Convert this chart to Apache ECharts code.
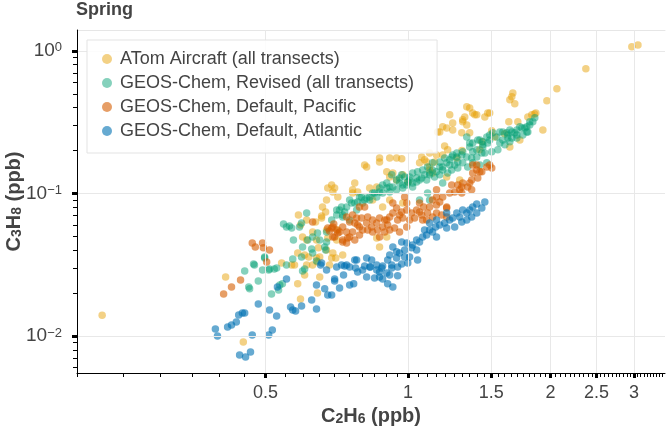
<!DOCTYPE html>
<html><head><meta charset="utf-8">
<script src="https://cdn.jsdelivr.net/npm/echarts@6/dist/echarts.min.js"></script>
<style>html,body{margin:0;padding:0;background:#fff}#c{width:666px;height:430px}</style>
</head><body><div id="c"></div>
<script>
// ---- data (C2H6 ppb, C3H8 ppb) ----
const seriesNames = ['ATom Aircraft (all transects)', 'GEOS-Chem, Revised (all transects)', 'GEOS-Chem, Default, Pacific', 'GEOS-Chem, Default, Atlantic'];

const atom = [
[0.226,0.0140],[0.449,0.00908],[0.412,0.0259],[2.97,1.07],[3.06,1.10],[2.375,0.748],[2.063,0.541],[1.965,0.446],[1.927,0.279],[1.665,0.507],[1.657,0.476],[1.641,0.453],[1.681,0.425],[1.862,0.367],[1.826,0.356],[1.791,0.344],[1.633,0.318],[1.706,0.318],[1.503,0.275],[1.474,0.367],[1.453,0.344],[1.370,0.367],[1.397,0.356],[1.350,0.398],[1.350,0.266],[1.432,0.230],[1.525,0.249],[1.318,0.344],[1.305,0.318],[1.331,0.302],[1.207,0.288],[1.243,0.279],[1.167,0.270],[1.299,0.266],[1.195,0.215],[1.213,0.202],[1.149,0.186],[1.111,0.192],[1.069,0.180],[1.084,0.172],[1.058,0.164],[0.871,0.177],[0.871,0.166],[0.915,0.177],[0.946,0.177],[0.970,0.175],[0.818,0.153],[0.915,0.1305],[0.929,0.1393],[0.859,0.111],[0.830,0.1093],[1.111,0.146],
[1.225,0.356],[1.331,0.405],[1.384,0.356],[1.488,0.367],[1.305,0.328],[1.155,0.270],[1.723,0.237],[1.641,0.212],[1.418,0.202],[1.184,0.186],[1.268,0.177],[1.138,0.166],[1.095,0.166],[1.127,0.1393],[1.207,0.1305],[1.286,0.124],[0.902,0.1416],[0.975,0.1349],[0.946,0.124],[0.764,0.106],[0.772,0.1185],[0.677,0.1093],[0.694,0.1024],[0.711,0.0945],[0.673,0.0900],[0.660,0.0804],[0.611,0.0652],[0.629,0.0537],[0.599,0.0495],[0.605,0.0370],[0.651,0.0358],[0.694,0.0382],[0.842,0.0900],[0.915,0.0900],[0.884,0.0804],[0.975,0.0858],[0.859,0.0487],[0.902,0.0495],[0.871,0.0421],
[0.670,0.0742],[0.657,0.0673],[0.638,0.0631],[0.587,0.0706],[0.593,0.0601],[0.673,0.0554],[0.711,0.0554],[0.677,0.0487],[0.707,0.0472],[0.641,0.0472],[0.611,0.0472],[0.585,0.0382],[0.617,0.0358],[0.644,0.0330],[0.690,0.0353],[0.673,0.0401],[0.629,0.0315],[0.651,0.0259],[0.605,0.0268],[0.576,0.0315],[0.541,0.0325],[0.683,0.0315],[0.657,0.0695],[0.647,0.0415],[0.585,0.0232],[0.593,0.01818],[0.644,0.0200],[0.568,0.0315],[0.611,0.0315],[0.641,0.0353],[0.704,0.0353],[0.728,0.0370],
[0.690,0.1147],[0.700,0.1093],[0.764,0.1008],[0.783,0.1024],[0.810,0.158],[1.111,0.153],[1.184,0.293],[1.243,0.312],[1.000,0.120],[1.300,0.200],[1.600,0.262],[1.850,0.360]
];

const revised = [
[0.546,0.0611],[0.554,0.0582],[0.568,0.0572],[0.590,0.0582],[0.644,0.0528],[0.573,0.0472],[0.614,0.0472],[0.626,0.0408],[0.596,0.0358],[0.571,0.0347],[0.554,0.0315],[0.522,0.0295],[0.510,0.0295],[0.493,0.0290],[0.498,0.0358],[0.474,0.0315],[0.452,0.0286],[0.483,0.0243],[0.461,0.0221],[0.463,0.0214],[0.515,0.0197],[0.533,0.0210],[0.543,0.0232],[0.605,0.0295],[0.599,0.0286],[0.670,0.0401],[0.673,0.0457],[0.641,0.0336],[0.562,0.0591],[0.472,0.0320],[0.508,0.0290],[0.528,0.0300],[0.596,0.0621],[0.611,0.0730],[0.629,0.0495],[0.651,0.0472],[0.673,0.0537],[0.690,0.0652],[0.707,0.0766],[0.724,0.0804],[0.728,0.0706],[0.753,0.0652],[0.779,0.0766],[0.667,0.0421],[0.599,0.0421],[0.629,0.0382],[0.536,0.0228],
[0.753,0.0900],[0.742,0.0804],[0.760,0.0858],[0.790,0.0945],[0.810,0.0900],[0.830,0.0945],[0.850,0.1008],[0.871,0.1093],[0.915,0.111],[0.960,0.1185],[0.999,0.1204],[1.043,0.1284],[1.084,0.1349],[1.127,0.146],[1.167,0.153],[1.207,0.164],[1.237,0.180],[1.268,0.192],[1.305,0.196],[1.350,0.212],[1.418,0.237],[1.467,0.249],[1.510,0.266],[1.563,0.270],[1.641,0.279],[1.723,0.293],[1.808,0.318],[1.853,0.339],[1.563,0.226],[1.625,0.245],[1.439,0.212],[1.370,0.226],[1.331,0.249],[1.617,0.266],[1.698,0.257],[1.782,0.270],
[1.467,0.164],[1.418,0.158],[1.370,0.164],[1.337,0.153],[1.305,0.164],[1.274,0.151],[1.255,0.158],[1.237,0.146],[1.213,0.1393],[1.184,0.146],[1.167,0.1349],[1.138,0.1305],[1.111,0.1349],[1.095,0.124],[1.069,0.1284],[1.043,0.1204],[1.023,0.111],[1.008,0.124],[0.994,0.1147],[0.975,0.1093],[0.946,0.106],[0.929,0.111],[0.915,0.1024],[0.902,0.1093],[0.884,0.1008],[0.871,0.1024],[0.859,0.0945],[0.842,0.1008],[0.830,0.0900],[0.818,0.093],[0.802,0.0858],[0.798,0.0945],[0.783,0.0872],[0.772,0.0858],[0.735,0.0742],[0.728,0.0684],[0.717,0.0766],[0.707,0.0706],[0.924,0.1349],[0.970,0.1349],[1.023,0.1393],[1.111,0.0900],[1.058,0.0900],[1.100,0.1008],[1.184,0.1185],
[1.350,0.226],[1.370,0.196],[1.331,0.180],[1.299,0.186],[1.268,0.180],[1.243,0.186],[1.225,0.172],[1.195,0.177],[1.167,0.166],[1.127,0.164],[1.100,0.153],[1.074,0.146],[1.048,0.1416],[1.008,0.1305],[0.984,0.1305],[0.960,0.1284],[0.946,0.124],[0.902,0.1185],[0.884,0.1147],[0.975,0.1147],[1.023,0.1185],[1.058,0.124],[1.111,0.1393],[1.149,0.1416],[1.184,0.153],[1.225,0.158],[1.274,0.166],[1.397,0.180],[1.432,0.192],[1.439,0.230],[1.404,0.237],
[1.835,0.318],[1.808,0.302],[1.782,0.293],[1.765,0.288],[1.740,0.288],[1.698,0.279],[1.681,0.266],[1.657,0.270],[1.625,0.257],[1.586,0.270],[1.540,0.249],[1.488,0.237],[1.474,0.226],[1.439,0.219],[1.397,0.202],[1.453,0.192],[1.503,0.196],[1.548,0.202],[1.602,0.219],[1.641,0.230],[1.698,0.245],[1.748,0.257],[1.791,0.270],[1.488,0.257],[1.586,0.237],[1.657,0.245],[1.363,0.177],[0.498,0.0353]
];

const pacific = [
[0.408,0.0197],[0.424,0.0221],[0.443,0.0247],[0.469,0.0449],[0.476,0.0421],[0.493,0.0449],[0.495,0.0415],[0.510,0.0401],[0.503,0.0330],[0.629,0.0631],[0.690,0.0572],[0.697,0.0611],[0.683,0.0545],[0.707,0.0554],[0.677,0.0572],
[0.694,0.0582],[0.700,0.0495],[0.711,0.0528],[0.728,0.0457],[0.746,0.0487],[0.728,0.0582],[0.742,0.0684],[0.753,0.0631],[0.764,0.0706],[0.772,0.0621],[0.783,0.0601],[0.798,0.0673],[0.802,0.0554],[0.818,0.0621],[0.822,0.0684],[0.838,0.0582],[0.842,0.0652],[0.859,0.0621],[0.863,0.0554],[0.871,0.0673],[0.884,0.0582],[0.893,0.0652],[0.906,0.0601],[0.915,0.0684],[0.915,0.0554],[0.929,0.0730],[0.946,0.0791],[0.951,0.0652],[0.970,0.0742],[0.975,0.0673],[0.994,0.0766],[1.008,0.0652],[1.018,0.0730],[1.033,0.0673],[1.043,0.0766],[1.069,0.0706],[1.095,0.0652],[1.058,0.0858],[1.079,0.0804],[1.100,0.0730],[1.111,0.0804],[1.127,0.0900],[1.149,0.0945],[1.167,0.0872],[1.149,0.0830],[1.225,0.1008],[1.237,0.1147],[1.255,0.1024],[1.274,0.1147],[1.299,0.111],[1.299,0.1008],[1.350,0.1185],[1.363,0.106],[1.404,0.1284],[1.370,0.1393],[1.397,0.146],[1.432,0.1416],[1.467,0.153],[1.488,0.158],[1.370,0.158],[1.397,0.158],[0.929,0.0858],[0.994,0.0858],[0.984,0.0945],[1.149,0.106],[1.207,0.0791],[1.184,0.0945],[1.207,0.0804],[1.207,0.0684],[1.178,0.0706],[1.149,0.0730],[1.127,0.0684],[1.058,0.0742],[0.960,0.0706],[1.074,0.0652],[0.902,0.0652],[0.871,0.0495],[0.893,0.0537],[0.937,0.0572],[0.960,0.0537],[0.994,0.0582],[0.810,0.0804],[0.790,0.0804],[0.779,0.0673],[0.790,0.0582],[0.717,0.0537],[0.742,0.0537],[0.764,0.0537],[0.753,0.0495],[0.728,0.0472],[0.742,0.0449],[0.772,0.0472],[0.694,0.0495],[0.790,0.0511],[0.822,0.0554],[0.842,0.0537],[1.305,0.1185],[1.286,0.106],[1.337,0.111],[1.503,0.151],[1.418,0.1416],[1.363,0.124]
];

const atlantic = [
[0.392,0.0112],[0.396,0.0100],[0.416,0.01156],[0.424,0.01194],[0.434,0.01253],[0.439,0.01404],[0.447,0.0145],[0.452,0.0145],[0.441,0.00735],[0.454,0.00712],[0.465,0.00772],[0.469,0.01016],[0.483,0.01677],[0.508,0.01016],[0.517,0.0110],[0.510,0.0152],[0.528,0.0138],[0.554,0.0251],[0.530,0.0221],[0.565,0.01598],[0.571,0.0152],[0.579,0.01497],[0.596,0.01624],[0.626,0.0179],[0.641,0.01547],[0.641,0.0228],[0.654,0.0315],[0.673,0.0290],[0.667,0.0214],[0.677,0.0194],[0.690,0.0194],[0.700,0.0243],[0.717,0.0217],[0.731,0.0268],[0.753,0.0228],[0.768,0.0232],[0.772,0.0341],[0.735,0.0310],[0.742,0.0315],[0.775,0.0300],[0.783,0.0281],[0.810,0.0310],[0.818,0.0353],[0.833,0.0305],[0.850,0.0255],[0.859,0.0315],[0.880,0.0300],[0.884,0.0251],[0.902,0.0277],[0.906,0.0232],[0.924,0.0315],[0.929,0.0221],[0.946,0.0353],[0.951,0.0264],[0.970,0.0320],[0.657,0.0325],
[1.453,0.0872],[1.397,0.0844],[1.370,0.0804],[1.350,0.0766],[1.331,0.0730],[1.305,0.0766],[1.286,0.0684],[1.268,0.0730],[1.243,0.0673],[1.225,0.0652],[1.207,0.0730],[1.195,0.0621],[1.167,0.0601],[1.149,0.0652],[1.144,0.0582],[1.111,0.0554],[1.127,0.0537],[1.095,0.0511],[1.074,0.0495],[1.058,0.0457],[1.043,0.0472],[1.023,0.0435],[1.018,0.0415],[0.994,0.0449],[0.984,0.0401],[0.970,0.0457],[0.946,0.0389],[0.960,0.0382],[0.929,0.0421],[0.915,0.0370],[0.906,0.0341],[1.043,0.0401],[1.008,0.0358],[0.984,0.0358],[1.048,0.0341],[0.999,0.0325],[0.951,0.0305],[0.924,0.0300],[0.884,0.0310],[0.871,0.0281],[0.859,0.0290],[0.830,0.0305],[0.838,0.0341],[0.802,0.0290],[0.779,0.0341],[0.753,0.0305],[0.724,0.0315],[0.707,0.0305],[0.871,0.0259],[0.818,0.0259],[0.915,0.0268],[1.207,0.0572],[1.255,0.0582],[1.299,0.0631],[1.331,0.0652],[1.363,0.0684],[1.397,0.0730],[1.432,0.0791],[1.149,0.0495],[1.111,0.0621],[1.084,0.0554],[0.700,0.0251]
];

// ---- ticks ----
const xMajorTicks = [0.5, 1, 1.5, 2, 2.5, 3];
const yMajorTicks = [0.01, 0.1, 1];
const yMinorTicks = [0.006,0.007,0.008,0.009,0.02,0.03,0.04,0.05,0.06,0.07,0.08,0.09,0.2,0.3,0.4,0.5,0.6,0.7,0.8,0.9];
const xMinorTicks = [];
for (let k = 4; k <= 69; k++) { if (k % 10 !== 0) { xMinorTicks.push(Math.round(k * 5) / 100); } }

const X_MIN = 0.2, X_MAX = 3.49, Y_MIN = 0.0055, Y_MAX = 1.4;
const FONT = 'Liberation Sans';
const colors = ['rgba(230,159,0,0.6)', 'rgba(0,158,115,0.6)', 'rgba(213,94,0,0.75)', 'rgba(0,114,178,0.75)'];
const datasets = [atom, revised, pacific, atlantic];

const chart = echarts.init(document.getElementById('c'), null, {renderer: 'canvas'});
const nameRich = {
  b: {fontSize: 20, fontWeight: 'bold', color: '#444', fontFamily: FONT},
  s: {fontSize: 14, fontWeight: 'bold', color: '#444', fontFamily: FONT, verticalAlign: 'bottom'}
};
const supMap = {'0': '0', '-1': '\u22121', '-2': '\u22122'};
chart.setOption({
  animation: false,
  textStyle: {fontFamily: FONT},
  title: {text: 'Spring', left: 76, top: 1, padding: 0,
    textStyle: {fontSize: 18, fontWeight: 'bold', color: '#444', fontFamily: FONT}},
  legend: {
    orient: 'vertical', left: 87, top: 40, padding: [10, 23, 13, 15], itemGap: 6,
    itemWidth: 16, itemHeight: 10, icon: 'circle',
    backgroundColor: 'rgba(255,255,255,0.85)', borderColor: '#e3e3e3', borderWidth: 1,
    textStyle: {fontSize: 18, color: '#444', fontFamily: FONT},
    data: seriesNames
  },
  grid: {left: 77, right: 1, top: 30, bottom: 57, containLabel: false, outerBoundsMode: 'none'},
  xAxis: [
    {type: 'log', logBase: 10, min: X_MIN, max: X_MAX, position: 'bottom', z: 3,
     axisLine: {show: true, lineStyle: {color: '#000', width: 1}},
     axisTick: {show: true, customValues: xMajorTicks, length: 5, lineStyle: {color: '#000', width: 3}},
     axisLabel: {customValues: xMajorTicks, margin: 11, fontSize: 18, color: '#444', fontFamily: FONT,
       formatter: v => String(Math.round(v * 100) / 100)},
     splitLine: {show: true, lineStyle: {color: '#e8e8e8', width: 1}},
     name: '{b|C}{s|2}{b|H}{s|6}{b| (ppb)}', nameLocation: 'middle', nameGap: 33, nameMoveOverlap: false,
     nameTextStyle: {rich: nameRich}},
    {type: 'log', logBase: 10, min: X_MIN, max: X_MAX, position: 'bottom',
     axisLine: {show: false},
     axisTick: {show: true, customValues: xMinorTicks, length: 4, lineStyle: {color: '#000', width: 1}},
     axisLabel: {show: false}, splitLine: {show: false}},
    {type: 'log', logBase: 10, min: X_MIN, max: X_MAX, position: 'top',
     axisLine: {show: true, lineStyle: {color: '#e6e6e6', width: 1}},
     axisTick: {show: false}, axisLabel: {show: false}, splitLine: {show: false}}
  ],
  yAxis: [
    {type: 'log', logBase: 10, min: Y_MIN, max: Y_MAX, position: 'left', z: 3,
     axisLine: {show: true, lineStyle: {color: '#000', width: 1}},
     axisTick: {show: true, customValues: yMajorTicks, length: 5, lineStyle: {color: '#000', width: 3}},
     axisLabel: {customValues: yMajorTicks, margin: 15, color: '#444', fontFamily: FONT,
       formatter: v => '{b|10}{s|' + supMap[String(Math.round(Math.log10(v)))] + '}',
       rich: {b: {fontSize: 19, color: '#444', fontFamily: FONT},
              s: {fontSize: 13, color: '#444', fontFamily: FONT, verticalAlign: 'top'}}},
     splitLine: {show: true, lineStyle: {color: '#e8e8e8', width: 1}},
     name: '{b|C}{s|3}{b|H}{s|8}{b| (ppb)}', nameLocation: 'middle', nameGap: 53, nameMoveOverlap: false,
     nameTextStyle: {rich: nameRich}},
    {type: 'log', logBase: 10, min: Y_MIN, max: Y_MAX, position: 'left',
     axisLine: {show: false},
     axisTick: {show: true, customValues: yMinorTicks, length: 4, lineStyle: {color: '#000', width: 1}},
     axisLabel: {show: false}, splitLine: {show: false}}
  ],
  series: datasets.map((d, i) => ({
    type: 'scatter', name: seriesNames[i], data: d, xAxisIndex: 0, yAxisIndex: 0,
    symbol: 'circle', symbolSize: 7.5, itemStyle: {color: colors[i]},
    emphasis: {disabled: true}
  }))
});
</script>
</body></html>
